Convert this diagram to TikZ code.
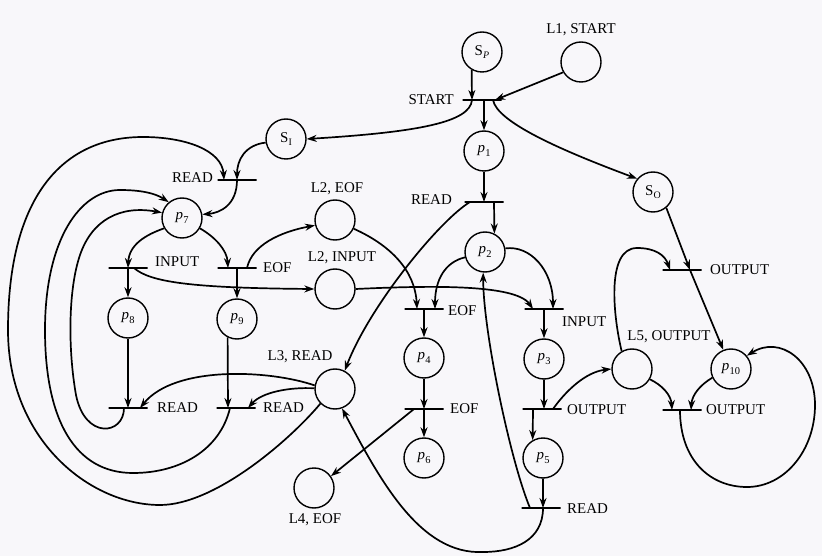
\documentclass[tikz,border=0pt]{standalone}
\usepackage{fontspec}
\setmainfont{Liberation Serif}
\usetikzlibrary{arrows.meta}
\definecolor{bgc}{RGB}{248,247,250}
\newcommand{\pp}[1]{\textit{p}\kern0.3pt\raisebox{-0.45ex}{\fontsize{10.5}{11}\selectfont #1}}
\newcommand{\Sx}[1]{S\kern0.2pt\raisebox{-0.45ex}{\fontsize{10}{10}\selectfont #1}}
\begin{document}
\begin{tikzpicture}[x=1bp,y=1bp,
  font=\fontsize{15}{17}\selectfont,
  place/.style={circle,draw,line width=1.4bp,minimum size=40bp,inner sep=0pt},
  trans/.style={draw,line width=1.5bp,minimum width=39bp,minimum height=0pt,inner sep=0pt,outer sep=0pt},
  lbl/.style={inner sep=0pt},
  arc/.style={line width=1.7bp,-{Stealth[length=10bp,width=7bp]}}]
\fill[bgc] (0,0) rectangle (822,-556);
\useasboundingbox (0,0) rectangle (822,-556);
% places
\node[place] (SP) at (482,-52) {\Sx{\textit{P}}};
\node[place] (L1) at (581,-62) {};
\node[place] (SI) at (286,-139) {\Sx{I}};
\node[place] (p1) at (484,-151) {\pp{1}};
\node[place] (SO) at (653,-192) {\Sx{O}};
\node[place] (p7) at (182,-218) {\pp{7}};
\node[place] (L2E) at (335,-220) {};
\node[place] (p2) at (485,-252) {\pp{2}};
\node[place] (L2I) at (335,-289) {};
\node[place] (p8) at (128,-318) {\pp{8}};
\node[place] (p9) at (237,-319) {\pp{9}};
\node[place] (p4) at (424,-358) {\pp{4}};
\node[place] (p3) at (544,-359) {\pp{3}};
\node[place] (L5) at (632,-369) {};
\node[place] (p10) at (731,-369) {\pp{10}};
\node[place] (L3) at (335,-389) {};
\node[place] (p6) at (424,-458) {\pp{6}};
\node[place] (p5) at (543,-458) {\pp{5}};
\node[place] (L4) at (314,-488) {};
% place labels
\node[lbl] (lL1) at (581,-30) {L1, START};
\node[lbl] (lL2E) at (337,-189) {L2, EOF};
\node[lbl] (lL2I) at (342,-258) {L2, INPUT};
\node[lbl] (lL3) at (300,-357) {L3, READ};
\node[lbl] (lL4) at (315,-520) {L4, EOF};
\node[lbl] (lL5) at (669,-337) {L5, OUTPUT};
% transitions
\node[trans] (tS) at (482,-100) {};
\node[trans] (tR1) at (484,-202) {};
\node[trans] (tRI) at (237,-180) {};
\node[trans] (tIn) at (128,-268) {};
\node[trans] (tE9) at (237,-268) {};
\node[trans] (tO1) at (682,-270) {};
\node[trans] (tE4) at (424,-309) {};
\node[trans] (tIn3) at (544,-309) {};
\node[trans] (tR8) at (128,-408) {};
\node[trans] (tR9) at (236,-408) {};
\node[trans] (tE6) at (424,-409) {};
\node[trans] (tO3) at (542,-409) {};
\node[trans] (tO10) at (682,-410) {};
\node[trans] (tR5) at (541,-508) {};
% transition labels
\node[lbl,anchor=east] (lS) at (454,-100) {START};
\node[lbl,anchor=east] (lR1) at (452,-200) {READ};
\node[lbl,anchor=east] (lRI) at (213,-178) {READ};
\node[lbl,anchor=west] (lIn) at (155,-262) {INPUT};
\node[lbl,anchor=west] (lE9) at (263,-268) {EOF};
\node[lbl,anchor=west] (lO1) at (710,-270) {OUTPUT};
\node[lbl,anchor=west] (lE4) at (448,-311) {EOF};
\node[lbl,anchor=west] (lIn3) at (562,-322) {INPUT};
\node[lbl,anchor=west] (lR8) at (157,-408) {READ};
\node[lbl,anchor=west] (lR9) at (263,-408) {READ};
\node[lbl,anchor=west] (lE6) at (450,-409) {EOF};
\node[lbl,anchor=west] (lO3) at (567,-410) {OUTPUT};
\node[lbl,anchor=west] (lO10) at (706,-410) {OUTPUT};
\node[lbl,anchor=west] (lR5) at (567,-509) {READ};
% arcs: top
\draw[arc] (SP.240) -- ([xshift=-10bp]tS.center);
\draw[arc] (L1.210) -- ([xshift=13bp]tS.center);
\draw[arc] ([xshift=2bp]tS.center) -- (p1.north);
\draw[arc] ([xshift=-10bp]tS.center) .. controls (470,-122) and (420,-132) .. (SI.east);
\draw[arc] ([xshift=11bp]tS.center) .. controls (497,-122) and (560,-150) .. (SO.140);
\draw[arc] (p1.south) -- (tR1.center);
\draw[arc] ([xshift=10bp]tR1.center) -- (p2.63);
\draw[arc] ([xshift=-14bp]tR1.center) .. controls (440,-220) and (370,-305) .. (L3.62);
% S_I region
\draw[arc] (SI.190) .. controls (245,-145) and (237,-160) .. (tRI.center);
\draw[arc] (tRI.center) .. controls (237,-205) and (220,-213) .. (p7.10);
\draw[arc] (L3.225) .. controls (290,-440) and (215,-505) .. (160,-505)
  .. controls (90,-505) and (8,-440) .. (8,-330)
  .. controls (8,-200) and (60,-137) .. (143,-137)
  .. controls (185,-137) and (222,-150) .. ([xshift=-13bp]tRI.center);
\draw[arc] ([xshift=-6bp]tR9.center) .. controls (220,-450) and (180,-473) .. (133,-473)
  .. controls (75,-473) and (45,-420) .. (45,-330)
  .. controls (45,-240) and (80,-190) .. (120,-190)
  .. controls (140,-190) and (155,-193) .. (p7.130);
\draw[arc] ([xshift=-4bp]tR8.center) .. controls (124,-435) and (85,-440) .. (76,-395)
  .. controls (68,-350) and (68,-290) .. (80,-255)
  .. controls (92,-220) and (120,-205) .. (p7.165);
% p7 outputs
\draw[arc] (p7.210) .. controls (145,-235) and (129,-245) .. (tIn.center);
\draw[arc] (p7.330) .. controls (215,-237) and (227,-250) .. ([xshift=-9bp]tE9.center);
\draw[arc] (tIn.center) -- (p8.north);
\draw[arc] ([xshift=6bp]tIn.center) .. controls (150,-282) and (190,-288) .. (L2I.west);
\draw[arc] (tE9.center) -- (p9.north);
\draw[arc] ([xshift=10bp]tE9.center) .. controls (252,-245) and (280,-232) .. (L2E.195);
\draw[arc] (p8.south) -- (tR8.center);
\draw[arc] (p9.243) -- ([xshift=-8bp]tR9.center);
\draw[arc] (L3.170) .. controls (270,-370) and (175,-365) .. ([xshift=12bp]tR8.center);
\draw[arc] (L3.178) .. controls (290,-387) and (262,-392) .. ([xshift=12bp]tR9.center);
% middle
\draw[arc] (L2E.335) .. controls (390,-245) and (415,-270) .. ([xshift=-7bp]tE4.center);
\draw[arc] (p2.195) .. controls (445,-262) and (435,-280) .. ([xshift=11bp]tE4.center);
\draw[arc] (L2I.east) .. controls (420,-286) and (515,-283) .. ([xshift=-11bp]tIn3.center);
\draw[arc] (p2.10) .. controls (530,-245) and (553,-270) .. ([xshift=9bp]tIn3.center);
\draw[arc] (tE4.center) -- (p4.north);
\draw[arc] (tIn3.center) -- (p3.north);
\draw[arc] (p4.south) -- (tE6.center);
\draw[arc] (tE6.center) -- (p6.north);
\draw[arc] ([xshift=-10bp]tE6.center) -- (L4.35);
\draw[arc] (p3.south) -- ([xshift=2bp]tO3.center);
\draw[arc] ([xshift=-9bp]tO3.center) -- (p5.120);
\draw[arc] ([xshift=11bp]tO3.center) .. controls (565,-392) and (585,-372) .. (L5.west);
\draw[arc] (p5.south) -- ([xshift=2bp]tR5.center);
\draw[arc] ([xshift=-11bp]tR5.center) .. controls (510,-460) and (483,-330) .. (p2.265);
\draw[arc] ([xshift=2bp]tR5.center) .. controls (543,-540) and (515,-552) .. (483,-552)
  .. controls (420,-555) and (380,-480) .. (L3.290);
% right
\draw[arc] (L5.120) .. controls (614,-320) and (605,-248) .. (637,-248)
  .. controls (655,-248) and (665,-255) .. ([xshift=-12bp]tO1.center);
\draw[arc] (SO.310) -- ([xshift=8bp]tO1.center);
\draw[arc] ([xshift=8bp]tO1.center) -- (p10.112);
\draw[arc] (L5.330) .. controls (662,-385) and (671,-395) .. ([xshift=-10bp]tO10.center);
\draw[arc] (p10.205) .. controls (700,-385) and (692,-395) .. ([xshift=9bp]tO10.center);
\draw[arc] ([xshift=-2bp]tO10.center) .. controls (680,-460) and (710,-487) .. (747,-487)
  .. controls (785,-487) and (815,-450) .. (815,-405)
  .. controls (815,-360) and (780,-335) .. (p10.40);
\end{tikzpicture}
\end{document}
